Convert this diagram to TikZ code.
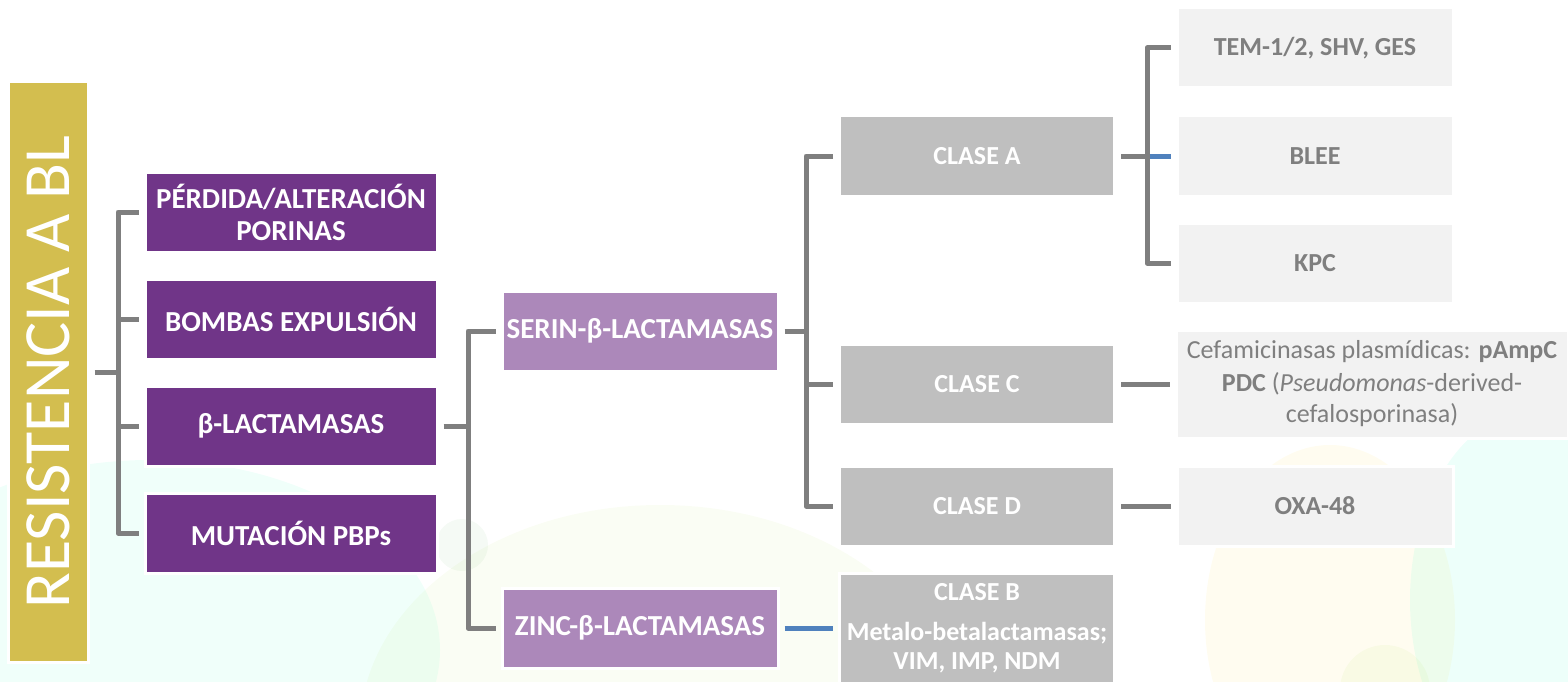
\documentclass[tikz,border=0pt]{standalone}
\usepackage{fontspec}
\setmainfont{Carlito}
\usepackage{tikz}

% Colors del diagrama
\definecolor{orBL}{HTML}{D3BE4F}
\definecolor{liladosc}{HTML}{703588}
\definecolor{lilaclar}{HTML}{AC88BA}
\definecolor{grisbox}{HTML}{BFBFBF}
\definecolor{grisclar}{HTML}{F2F2F2}
\definecolor{grislinia}{HTML}{7F7F7F}
\definecolor{blaulinia}{HTML}{4F81BD}

\begin{document}
\begin{tikzpicture}[x=1pt, y=-1pt,
    caixa/.style={rectangle, draw=white, line width=3, inner sep=0, align=center},
    nivell1/.style={caixa, fill=liladosc, text=white, minimum width=292, minimum height=80,
        font=\bfseries\fontsize{29}{32}\selectfont},
    nivell2/.style={caixa, fill=lilaclar, text=white, minimum width=276, minimum height=80,
        font=\bfseries\fontsize{29}{32}\selectfont},
    nivell3/.style={caixa, fill=grisbox, text=white, minimum width=275, minimum height=80,
        font=\bfseries\fontsize{26}{29}\selectfont},
    nivell4/.style={caixa, fill=grisclar, text=grislinia, minimum width=276, minimum height=80,
        font=\bfseries\fontsize{26}{29}\selectfont},
    linia/.style={draw=grislinia, line width=5, line join=round, shorten <=5, shorten >=5},
    liniablau/.style={linia, draw=blaulinia}]

    % Marges de la imatge
    \useasboundingbox (0,0) rectangle (1568,682);
    \clip (0,0) rectangle (1568,682);

    % Fons (taques suaus)
    \fill[color=green!30!cyan, opacity=0.06] (150,650) ellipse (290 and 190);
    \fill[color=yellow!60!green, opacity=0.05] (660,730) ellipse (300 and 225);
    \fill[color=green!50!black, opacity=0.04] (462,545) circle (26);
    \fill[color=yellow!70!orange, opacity=0.06] (1330,620) ellipse (125 and 175);
    \fill[color=green!30!cyan, opacity=0.07] (1535,600) ellipse (125 and 190);
    \fill[color=yellow!60!green, opacity=0.06] (1385,690) circle (45);

    % Caixa principal
    \node[caixa, fill=orBL, text=white, rotate=90, minimum width=580, minimum height=80,
        font=\fontsize{66}{70}\selectfont] (res) at (48,372) {RESISTENCIA A BL};

    % Primer nivell
    \node[nivell1] (perd) at (291,212) {PÉRDIDA/ALTERACIÓN\\PORINAS};
    \node[nivell1] (bomb) at (291,319) {BOMBAS EXPULSIÓN};
    \node[nivell1] (blac) at (291,426) {β-LACTAMASAS};
    \node[nivell1] (mut) at (291,533) {MUTACIÓN PBPs};

    % Segon nivell
    \node[nivell2] (serin) at (640,331) {SERIN-β-LACTAMASAS};
    \node[nivell2] (zinc) at (640,628) {ZINC-β-LACTAMASAS};

    % Classes
    \node[nivell3] (claseA) at (977,156) {CLASE A};
    \node[nivell3] (claseC) at (977,384) {CLASE C};
    \node[nivell3] (claseD) at (977,506) {CLASE D};
    \node[nivell3, minimum height=110] (claseB) at (977,628)
        {CLASE B\\[11pt]Metalo-betalactamasas;\\VIM, IMP, NDM};

    % Enzims
    \node[nivell4] (tem) at (1315,48) {TEM-1/2, SHV, GES};
    \node[nivell4] (blee) at (1315,156) {BLEE};
    \node[nivell4] (kpc) at (1315,263) {KPC};
    \node[nivell4, minimum width=392, minimum height=108,
        font=\fontsize{26}{31}\selectfont] (cef) at (1372,384)
        {Cefamicinasas plasmídicas: \textbf{pAmpC}\\[2pt]\textbf{PDC} (\textit{Pseudomonas}-derived-\\cefalosporinasa)};
    \node[nivell4] (oxa) at (1315,506) {OXA-48};

    % Claus de connexió
    \coordinate (n1) at (118,372);
    \coordinate (n2) at (468,426);
    \coordinate (n3) at (806,331);
    \coordinate (n4) at (1147,156);

    \draw[linia, shorten >=0] (res.south) -- (n1);
    \draw[linia] (perd.west) -| (n1) |- (mut.west);
    \draw[linia, shorten <=0] (n1 |- bomb.west) -- (bomb.west);
    \draw[linia, shorten <=0] (n1 |- blac.west) -- (blac.west);

    \draw[linia, shorten >=0] (blac.east) -- (n2);
    \draw[linia] (serin.west) -| (n2) |- (zinc.west);

    \draw[linia, shorten >=0] (serin.east) -- (n3);
    \draw[linia] (claseA.west) -| (n3) |- (claseD.west);
    \draw[linia, shorten <=0] (n3 |- claseC.west) -- (claseC.west);

    \draw[linia, shorten >=0] (claseA.east) -- (n4);
    \draw[linia] (tem.west) -| (n4) |- (kpc.west);
    \draw[liniablau, shorten <=2.5] (n4) -- (blee.west);

    \draw[linia] (claseC.east) -- (cef.west);
    \draw[linia] (claseD.east) -- (oxa.west);
    \draw[liniablau] (zinc.east) -- (claseB.west);
\end{tikzpicture}
\end{document}
